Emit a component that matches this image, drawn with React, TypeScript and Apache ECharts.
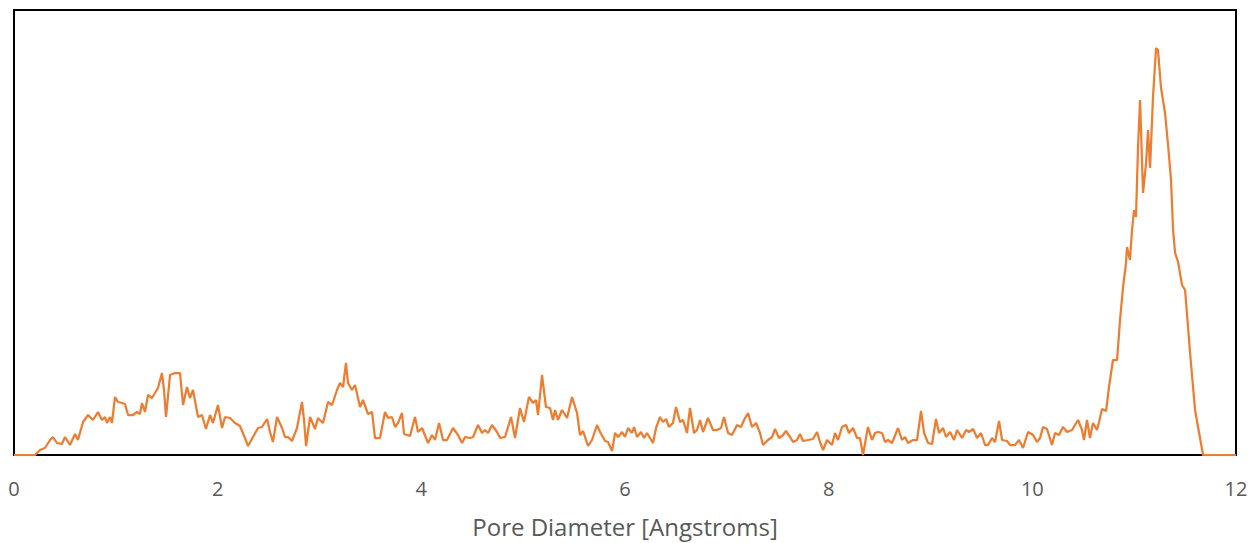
import React, { useEffect, useRef } from "react";
import * as echarts from "echarts";

const diameters: number[] = [
  0.0, 0.187, 0.206, 0.255, 0.304, 0.354, 0.383, 0.422, 0.471, 0.501, 0.55, 0.599, 0.628, 0.678, 0.727, 0.776, 0.825,
  0.864, 0.894, 0.913, 0.943, 0.962, 0.992, 1.021, 1.061, 1.09, 1.12, 1.169, 1.208, 1.237, 1.257, 1.286, 1.316,
  1.355, 1.385, 1.414, 1.453, 1.473, 1.493, 1.532, 1.581, 1.63, 1.66, 1.699, 1.728, 1.758, 1.807, 1.846, 1.885,
  1.925, 1.954, 2.003, 2.043, 2.072, 2.121, 2.17, 2.219, 2.268, 2.298, 2.347, 2.396, 2.435, 2.485, 2.514, 2.543,
  2.583, 2.632, 2.661, 2.691, 2.73, 2.779, 2.828, 2.848, 2.868, 2.907, 2.956, 2.985, 3.034, 3.084, 3.123, 3.172,
  3.201, 3.231, 3.26, 3.28, 3.319, 3.349, 3.398, 3.427, 3.476, 3.516, 3.545, 3.594, 3.643, 3.673, 3.712, 3.742,
  3.771, 3.81, 3.83, 3.889, 3.938, 3.967, 4.007, 4.066, 4.105, 4.134, 4.174, 4.213, 4.252, 4.311, 4.36, 4.4,
  4.429, 4.478, 4.508, 4.557, 4.596, 4.625, 4.655, 4.694, 4.743, 4.773, 4.822, 4.881, 4.92, 4.969, 5.008, 5.057,
  5.097, 5.126, 5.146, 5.185, 5.224, 5.264, 5.293, 5.313, 5.342, 5.381, 5.431, 5.48, 5.529, 5.558, 5.588, 5.637,
  5.676, 5.725, 5.755, 5.804, 5.833, 5.873, 5.902, 5.932, 5.971, 6.0, 6.03, 6.069, 6.089, 6.118, 6.157, 6.187,
  6.216, 6.275, 6.305, 6.344, 6.373, 6.403, 6.432, 6.471, 6.501, 6.54, 6.57, 6.609, 6.638, 6.678, 6.707, 6.737,
  6.766, 6.815, 6.864, 6.904, 6.943, 6.972, 7.012, 7.051, 7.1, 7.139, 7.169, 7.208, 7.247, 7.287, 7.326, 7.355,
  7.404, 7.444, 7.473, 7.512, 7.552, 7.581, 7.621, 7.65, 7.689, 7.719, 7.748, 7.797, 7.846, 7.886, 7.915, 7.945,
  7.984, 8.033, 8.062, 8.092, 8.131, 8.17, 8.2, 8.239, 8.279, 8.308, 8.337, 8.386, 8.426, 8.455, 8.485, 8.524,
  8.553, 8.583, 8.622, 8.681, 8.72, 8.75, 8.779, 8.828, 8.868, 8.907, 8.937, 8.976, 9.015, 9.054, 9.084, 9.123,
  9.153, 9.192, 9.231, 9.261, 9.31, 9.349, 9.378, 9.418, 9.457, 9.496, 9.536, 9.565, 9.604, 9.634, 9.673, 9.703,
  9.752, 9.781, 9.83, 9.869, 9.909, 9.958, 10.007, 10.046, 10.076, 10.105, 10.144, 10.193, 10.223, 10.262, 10.301,
  10.341, 10.39, 10.419, 10.449, 10.488, 10.507, 10.537, 10.566, 10.596, 10.635, 10.655, 10.684, 10.724, 10.753,
  10.792, 10.832, 10.861, 10.891, 10.92, 10.93, 10.959, 10.979, 10.999, 11.018, 11.038, 11.058, 11.087, 11.117,
  11.136, 11.156, 11.185, 11.215, 11.234, 11.264, 11.303, 11.333, 11.362, 11.382, 11.402, 11.431, 11.47, 11.5,
  11.549, 11.598, 11.627, 11.677, 12.0,
];

const distribution: number[] = [
  0, 0, 0, 5, 7, 15, 18, 12, 11, 18, 10, 21, 15, 33, 40, 35, 43,
  35, 38, 32, 38, 32, 58, 53, 52, 51, 40, 40, 43, 41, 52, 43, 60,
  57, 62, 67, 82, 65, 38, 80, 82, 82, 50, 68, 57, 65, 38, 40, 26,
  40, 32, 50, 27, 38, 37, 32, 29, 17, 9, 18, 27, 28, 36, 23, 13,
  38, 27, 18, 18, 14, 27, 53, 35, 9, 38, 26, 37, 32, 53, 50, 65,
  72, 68, 92, 72, 65, 70, 48, 55, 41, 43, 17, 17, 43, 37, 38, 28,
  32, 42, 21, 19, 38, 23, 27, 12, 20, 15, 32, 15, 15, 27, 20, 12,
  18, 17, 18, 30, 22, 25, 22, 30, 23, 17, 18, 38, 17, 47, 33, 58,
  52, 55, 40, 80, 48, 47, 35, 45, 35, 45, 37, 58, 42, 20, 24, 9,
  15, 30, 23, 14, 13, 4, 22, 18, 23, 18, 27, 22, 28, 18, 23, 17,
  22, 12, 27, 38, 33, 36, 28, 32, 48, 33, 35, 22, 47, 22, 25, 35,
  23, 37, 25, 25, 27, 38, 22, 20, 30, 28, 35, 42, 28, 32, 22, 10,
  15, 18, 26, 17, 20, 24, 18, 13, 15, 21, 14, 15, 16, 23, 13, 5,
  15, 10, 22, 15, 28, 30, 22, 27, 17, 17, 0, 28, 15, 22, 23, 22,
  13, 15, 12, 27, 15, 18, 12, 15, 15, 44, 22, 12, 11, 36, 22, 27,
  18, 23, 15, 25, 17, 25, 23, 26, 17, 22, 10, 10, 17, 13, 34, 15,
  14, 10, 10, 15, 7, 23, 20, 13, 17, 28, 26, 10, 22, 20, 28,
  23, 25, 30, 35, 25, 15, 35, 17, 32, 25, 33, 46, 44, 68,
  95, 95, 135, 168, 192, 208, 195, 225, 245, 238, 308, 355, 262, 292,
  325, 287, 358, 407, 405, 367, 342, 310, 275, 225, 202, 193, 170, 165,
  102, 45, 28, 0, 0,
];

const xTicks = { min: 0, max: 12, interval: 2 };
const xTitle = "Pore Diameter [Angstroms]";

export default function App() {
  const ref = useRef<HTMLDivElement>(null);
  useEffect(() => {
    if (!ref.current) return;
    const chart = echarts.init(ref.current, null, { renderer: "svg" });
    const points = diameters.map((d, i) => [d, distribution[i]]);
    chart.setOption({
      animation: false,
      backgroundColor: "#ffffff",
      grid: {
        left: 14,
        right: 15,
        top: 10,
        bottom: 88,
        show: true,
        borderColor: "#000000",
        borderWidth: 2,
        backgroundColor: "transparent",
      },
      xAxis: {
        type: "value",
        min: xTicks.min,
        max: xTicks.max,
        interval: xTicks.interval,
        name: xTitle,
        nameLocation: "middle",
        nameGap: 59,
        nameTextStyle: { color: "#595959", fontSize: 24, fontFamily: "Open Sans" },
        axisLine: { show: true, lineStyle: { color: "#000000", width: 2 } },
        axisTick: { show: false },
        splitLine: { show: false },
        axisLabel: { color: "#595959", fontSize: 20, margin: 23, fontFamily: "Open Sans" },
      },
      yAxis: {
        type: "value",
        min: 0,
        max: 445,
        show: false,
        splitLine: { show: false },
      },
      series: [
        {
          type: "line",
          data: points,
          showSymbol: false,
          symbol: "none",
          lineStyle: { color: "#ED7D31", width: 2.25 },
          itemStyle: { color: "#ED7D31" },
        },
      ],
    });
    return () => chart.dispose();
  }, []);
  return (
    <div
      ref={ref}
      style={{ position: "absolute", left: 0, top: 0, width: 1251, height: 543 }}
    />
  );
}
